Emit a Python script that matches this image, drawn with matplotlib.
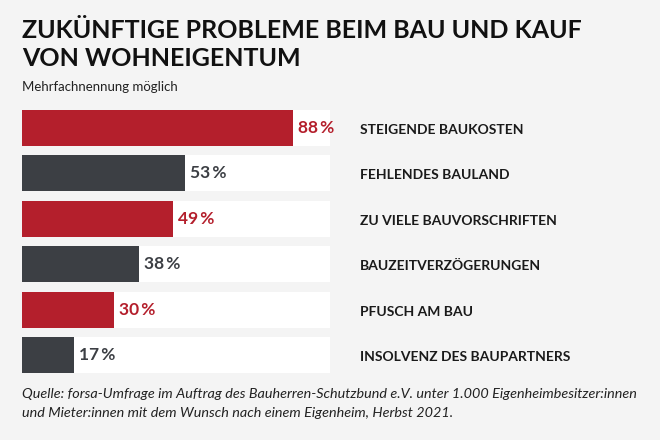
import matplotlib.pyplot as plt

categories = ['STEIGENDE BAUKOSTEN', 'FEHLENDES BAULAND', 'ZU VIELE BAUVORSCHRIFTEN',
              'BAUZEITVERZÖGERUNGEN', 'PFUSCH AM BAU', 'INSOLVENZ DES BAUPARTNERS']
values = [88, 53, 49, 38, 30, 17]

RED = '#b41f2c'
DARK = '#3c3f44'
BG = '#f4f4f4'
HEAD = 'Lato'

fig = plt.figure(figsize=(6.6, 4.4), dpi=100, facecolor=BG)
W, H = 660, 440
# axes spans the bar track area in pixels
x0, x1, ytop, ybot = 22, 330, 105, 378
ax = fig.add_axes([x0 / W, 1 - ybot / H, (x1 - x0) / W, (ybot - ytop) / H])
ax.set_facecolor(BG)
ax.set_xlim(0, 100)
ax.set_ylim(len(values) - 0.5, -0.5)
ax.axis('off')

for i, (cat, v) in enumerate(zip(categories, values)):
    col = RED if i % 2 == 0 else DARK
    ax.barh(i, 100, height=0.79, color='white')
    ax.barh(i, v, height=0.79, color=col)
    ax.text(v + 1.5, i, f'{v}\u2009%', color=col, fontsize=12.5, fontweight='bold',
            va='center', ha='left', family='Lato')
    fig.text(360 / W, 1 - (130 + i * 45.4) / H, cat, fontsize=10, fontweight='bold',
             family=HEAD, color='#1a1a1a', va='center', ha='left')

fig.text(22 / W, 1 - 31 / H, 'ZUKÜNFTIGE PROBLEME BEIM BAU UND KAUF', fontsize=18,
         fontweight='bold', family=HEAD, va='center', color='#111111')
fig.text(22 / W, 1 - 58 / H, 'VON WOHNEIGENTUM', fontsize=18,
         fontweight='bold', family=HEAD, va='center', color='#111111')
fig.text(22 / W, 1 - 87 / H, 'Mehrfachnennung möglich', fontsize=9.5, family='Lato',
         va='center', color='#222222')
fig.text(22 / W, 1 - 394 / H,
         'Quelle: forsa-Umfrage im Auftrag des Bauherren-Schutzbund e.V. unter 1.000 Eigenheimbesitzer:innen',
         fontsize=10.4, style='italic', family='Lato', va='center', color='#222222')
fig.text(22 / W, 1 - 413 / H,
         'und Mieter:innen mit dem Wunsch nach einem Eigenheim, Herbst 2021.',
         fontsize=10.4, style='italic', family='Lato', va='center', color='#222222')

fig.savefig('out.png', dpi=100, facecolor=BG)
